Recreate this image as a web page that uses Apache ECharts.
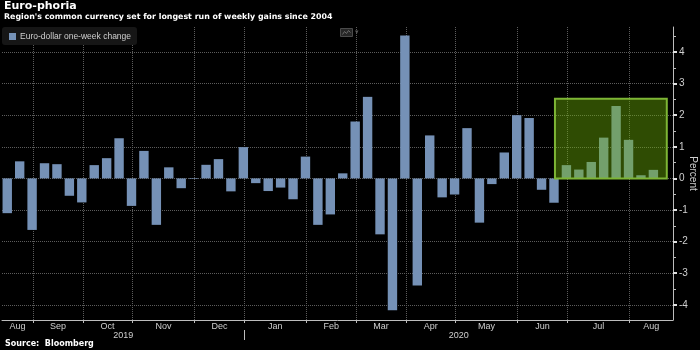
<!DOCTYPE html>
<html>
<head>
<meta charset="utf-8">
<script src="https://cdn.jsdelivr.net/npm/echarts@6/dist/echarts.min.js"></script>
<style>
html, body { margin: 0; padding: 0; background: #000; }
#chart { width: 700px; height: 350px; }
</style>
</head>
<body>
<div id="chart"></div>
<script>
// Euro-dollar one-week change, percent, one value per week (late Aug 2019 - Aug 2020)
var weeklyChange = [
	-1.10, 0.54, -1.63, 0.48, 0.45, -0.55, -0.76, 0.42, 0.64, 1.27,
	-0.87, 0.87, -1.47, 0.35, -0.31, -0.02, 0.43, 0.61, -0.41, 0.99,
	-0.15, -0.40, -0.29, -0.66, 0.69, -1.47, -1.14, 0.16, 1.80, 2.58,
	-1.77, -4.17, 4.52, -3.39, 1.36, -0.60, -0.51, 1.59, -1.40, -0.18,
	0.82, 2.00, 1.91, -0.36, -0.77, 0.42, 0.28, 0.52, 1.29, 2.29,
	1.22, 0.10, 0.27
];
// week index where each month starts
var monthTicks = [2, 6, 10, 15, 19, 24, 28, 32, 36, 41, 45, 50];
var monthNames = ['Aug', 'Sep', 'Oct', 'Nov', 'Dec', 'Jan', 'Feb', 'Mar', 'Apr', 'May', 'Jun', 'Jul', 'Aug'];
var yearNames = ['2019', '2020'];
var yearBreak = 19;
var yTicks = [-4, -3, -2, -1, 0, 1, 2, 3, 4];
var yMinorTicks = [-3.5, -2.5, -1.5, -0.5, 0.5, 1.5, 2.5, 3.5, 4.5];
// highlighted winning streak
var streakFrom = 44, streakTo = 53, streakTop = 2.52;

var xMin = -0.5;
var xMax = weeklyChange.length + 0.5;

var bounds = [xMin].concat(monthTicks).concat([xMax]);
var monthPos = [];
for (var i = 0; i < monthNames.length; i++) {
	monthPos.push((bounds[i] + bounds[i + 1]) / 2);
}
var yearPos = [(xMin + yearBreak) / 2, (yearBreak + xMax) / 2];

function pickLabel(pos, names) {
	return function(v) {
		for (var k = 0; k < pos.length; k++) {
			if (Math.abs(pos[k] - v) < 0.01) return names[k];
		}
		return '';
	};
}

var barData = weeklyChange.map(function(v, idx) { return [idx, v]; });

var labelFont = '"Liberation Sans", Arial, sans-serif';
var gridColor = '#5c5c5c';

var option = {
	backgroundColor: '#000',
	animation: false,
	title: [{
		text: 'Euro-phoria',
		subtext: "Region's common currency set for longest run of weekly gains since 2004",
		left: 2,
		top: 0,
		padding: [1, 2, 0, 2],
		itemGap: 1,
		textStyle: { color: '#fff', fontSize: 11, fontWeight: 'bold', fontFamily: 'DejaVu Sans' },
		subtextStyle: { color: '#fff', fontSize: 7.9, fontWeight: 'bold', fontFamily: 'DejaVu Sans' }
	}, {
		text: 'Source:  Bloomberg',
		left: 5,
		top: 340,
		padding: 0,
		textStyle: { color: '#fff', fontSize: 8, fontWeight: 'bold', fontFamily: 'DejaVu Sans' }
	}],
	legend: {
		left: 2,
		top: 27,
		padding: [5, 6, 4, 7],
		backgroundColor: '#161616',
		borderRadius: 3,
		icon: 'rect',
		itemWidth: 7,
		itemHeight: 7,
		itemGap: 4,
		data: ['Euro-dollar one-week change'],
		textStyle: { color: '#cfcfcf', fontSize: 8.5, fontFamily: labelFont, padding: [0, 0, 0, -1] }
	},
	grid: { left: 2, right: 27, top: 27, bottom: 30, containLabel: false, outerBoundsMode: 'none' },
	xAxis: [{
		type: 'value',
		min: xMin,
		max: xMax,
		axisLine: { show: true, onZero: false, lineStyle: { color: '#bdbdbd', width: 1 } },
		axisTick: { show: true, customValues: monthTicks, length: 3, lineStyle: { color: '#bdbdbd' } },
		splitLine: { show: true, lineStyle: { color: gridColor, type: 'dotted', width: 1 } },
		axisLabel: {
			customValues: monthPos,
			formatter: pickLabel(monthPos, monthNames),
			color: '#cfcfcf',
			fontSize: 9,
			fontFamily: labelFont,
			margin: 2
		}
	}, {
		type: 'value',
		position: 'bottom',
		offset: 10,
		min: xMin,
		max: xMax,
		axisLine: { show: false, onZero: false },
		axisTick: { show: true, customValues: [yearBreak], length: 10, lineStyle: { color: '#bdbdbd' } },
		splitLine: { show: false },
		axisLabel: {
			customValues: yearPos,
			formatter: pickLabel(yearPos, yearNames),
			color: '#cfcfcf',
			fontSize: 9,
			fontFamily: labelFont,
			margin: 1
		}
	}],
	yAxis: [{
		type: 'value',
		position: 'right',
		min: -4.48,
		max: 4.79,
		name: 'Percent',
		nameLocation: 'middle',
		nameRotate: -90,
		nameGap: 15,
		nameMoveOverlap: false,
		nameTextStyle: { color: '#cfcfcf', fontSize: 10, fontFamily: labelFont },
		axisLine: { show: true, onZero: false, lineStyle: { color: '#bdbdbd', width: 1 } },
		axisTick: { show: true, customValues: yTicks, length: 4, lineStyle: { color: '#e0e0e0', width: 2 } },
		splitLine: { show: true, lineStyle: { color: gridColor, type: 'dotted', width: 1 } },
		axisLabel: {
			customValues: yTicks,
			color: '#cfcfcf',
			fontSize: 10,
			fontFamily: labelFont,
			margin: 6
		}
	}, {
		type: 'value',
		position: 'right',
		min: -4.48,
		max: 4.79,
		axisLine: { show: false, onZero: false },
		axisTick: { show: true, customValues: yMinorTicks, length: 3, lineStyle: { color: '#bdbdbd' } },
		splitLine: { show: false },
		axisLabel: { show: false }
	}],
	series: [{
		name: 'Euro-dollar one-week change',
		type: 'bar',
		xAxisIndex: 0,
		yAxisIndex: 0,
		barWidth: 9.4,
		itemStyle: { color: '#7591b6' },
		data: barData
	}, {
		name: 'streak',
		type: 'bar',
		xAxisIndex: 0,
		yAxisIndex: 0,
		z: 10,
		data: [],
		markArea: {
			silent: true,
			z: 10,
			itemStyle: {
				color: 'rgba(112, 180, 8, 0.42)',
				borderColor: '#7db535',
				borderWidth: 2
			},
			data: [[
				{ xAxis: streakFrom, yAxis: 0 },
				{ xAxis: streakTo, yAxis: streakTop }
			]]
		}
	}],
	graphic: [{
		type: 'group',
		left: 340,
		top: 28,
		children: [{
			type: 'rect',
			shape: { x: 0, y: 0, width: 12, height: 8 },
			style: { fill: '#262626', stroke: '#4a4a4a', lineWidth: 1 }
		}, {
			type: 'polyline',
			shape: { points: [[2, 6], [4, 3], [6, 5], [8, 2], [10, 4]] },
			style: { stroke: '#6a6a6a', lineWidth: 1, fill: null }
		}, {
			type: 'text',
			left: 14,
			top: 0,
			style: { text: '▾', fill: '#555', fontSize: 7 }
		}]
	}]
};

var chart = echarts.init(document.getElementById('chart'));
chart.setOption(option);
</script>
</body>
</html>
